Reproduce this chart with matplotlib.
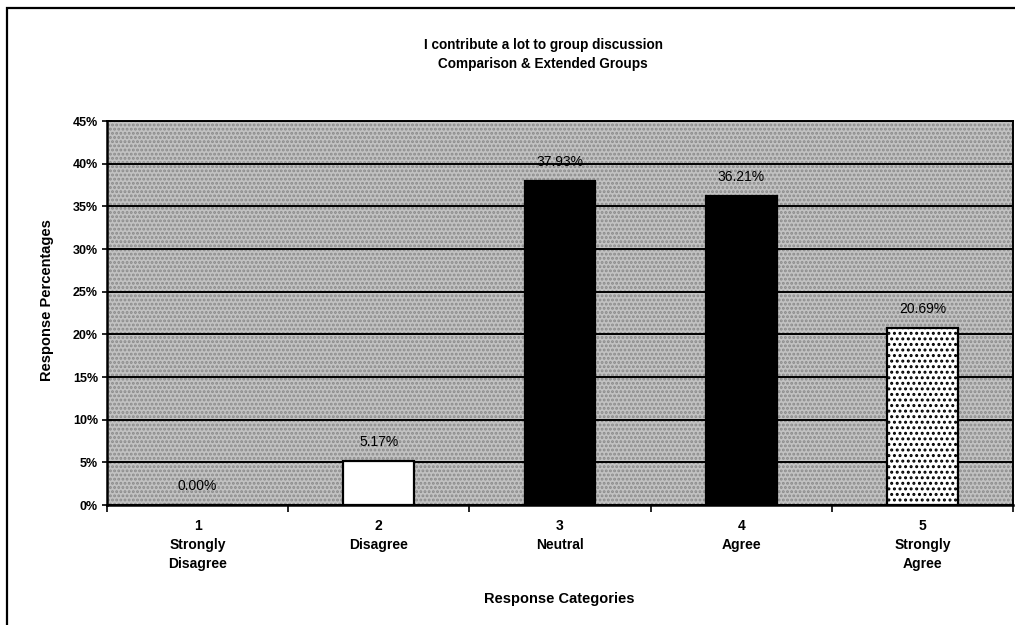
import matplotlib
matplotlib.use("Agg")
import matplotlib.pyplot as plt
from matplotlib.patches import Rectangle
from matplotlib.ticker import FixedLocator, FuncFormatter

plt.rcParams['font.family'] = ['Liberation Sans', 'DejaVu Sans']
plt.rcParams['hatch.linewidth'] = 1.4

categories = ["1\nStrongly\nDisagree", "2\nDisagree", "3\nNeutral", "4\nAgree", "5\nStrongly\nAgree"]
percentages = [0.00, 5.17, 37.93, 36.21, 20.69]
value_labels = ["0.00%", "5.17%", "37.93%", "36.21%", "20.69%"]
y_ticks = [0, 5, 10, 15, 20, 25, 30, 35, 40, 45]

W, H = 1015, 625
fig = plt.figure(figsize=(W / 100, H / 100), dpi=100)
fig.patch.set_facecolor("white")

# outer chart border (open on the right and bottom edges)
fig.patches.append(Rectangle((7 / W, -0.02), 1.05, 1 - 8 / H + 0.02,
                             transform=fig.transFigure, fill=False,
                             edgecolor="black", linewidth=1.6, zorder=0))

ax = fig.add_axes([107 / W, 1 - 505 / H, 906 / W, 384 / H])
ax.set_facecolor("#c2c2c2")
ax.add_patch(Rectangle((0, 0), 1, 1, transform=ax.transAxes, facecolor="none",
                       edgecolor="#8a8a8a", hatch="....", linewidth=0, zorder=0))

x = list(range(len(categories)))
faces = ["white", "white", "black", "black", "white"]
hatches = [None, None, None, None, "..."]
for xi, val, fc, ht in zip(x, percentages, faces, hatches):
    ax.bar(xi, val, width=0.39, color=fc, edgecolor="black", linewidth=1.6,
           hatch=ht, zorder=3)

for xi, val, lab in zip(x, percentages, value_labels):
    ax.text(xi, val + 2.25, lab, ha="center", va="center", fontsize=10,
            color="black", zorder=4)

ax.set_xlim(-0.5, len(categories) - 0.5)
ax.set_ylim(0, 45)

ax.yaxis.set_major_locator(FixedLocator(y_ticks))
ax.yaxis.set_major_formatter(FuncFormatter(lambda v, p: f"{int(v)}%"))
ax.grid(axis="y", color="black", linewidth=1.4, zorder=1)
ax.set_axisbelow(True)

ax.set_xticks([i - 0.5 for i in range(len(categories) + 1)])
ax.set_xticklabels([])
ax.set_xticks(x, minor=True)
ax.set_xticklabels(categories, minor=True, fontsize=10, fontweight="bold",
                   linespacing=1.45)
ax.tick_params(axis="x", which="minor", length=0, pad=10)
ax.tick_params(axis="x", which="major", direction="out", length=5, width=1.2)
ax.tick_params(axis="y", direction="inout", length=7, width=1.2, labelsize=9,
               pad=3)
for lab in ax.get_yticklabels():
    lab.set_fontweight("bold")

for side in ["left", "bottom"]:
    ax.spines[side].set_linewidth(1.8)
for side in ["top", "right"]:
    ax.spines[side].set_linewidth(1.4)

fig.text(543 / W, 1 - 45 / H, "I contribute a lot to group discussion",
         ha="center", va="center", fontsize=9.8, fontweight="bold")
fig.text(543 / W, 1 - 64 / H, "Comparison & Extended Groups",
         ha="center", va="center", fontsize=9.8, fontweight="bold")
fig.text(47 / W, 1 - 300 / H, "Response Percentages", rotation=90,
         ha="center", va="center", fontsize=10.5, fontweight="bold")
fig.text(559 / W, 1 - 599 / H, "Response Categories",
         ha="center", va="center", fontsize=10.5, fontweight="bold")

fig.savefig("out.png", dpi=100, facecolor="white")
